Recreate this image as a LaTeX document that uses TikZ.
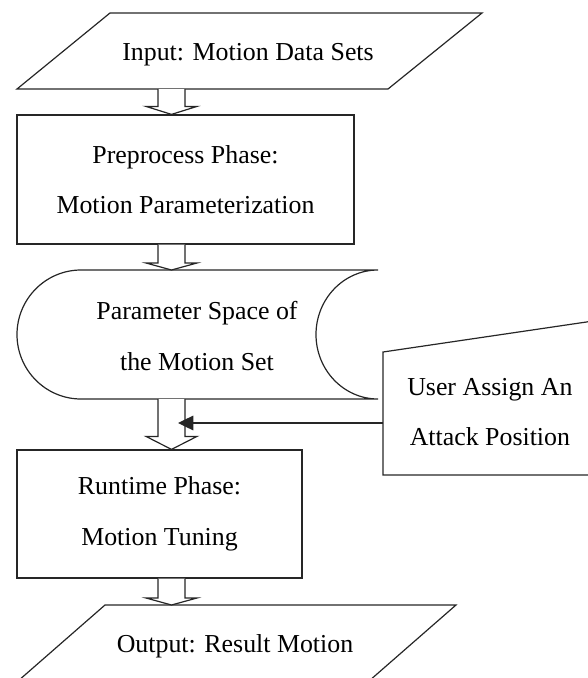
\documentclass[tikz,border=0pt]{standalone}
\usepackage{fontspec}
\setmainfont{Liberation Serif}
\usetikzlibrary{calc,arrows.meta}
\tikzset{
	shapeline/.style={draw=black!85, line width=0.9pt},
	textbox/.style={align=center, inner sep=0pt, font=\fontsize{19.4pt}{38pt}\selectfont},
	procbox/.style={shapeline, rectangle, textbox},
	hollow/.style={draw=black!85, line width=0.9pt, fill=white},
	assign/.style={draw=black!85, line width=0.9pt, -{Triangle[length=11.5pt,width=11pt]}}
}
% hollow block arrow: from, tip, head height
\newcommand{\hollowarrow}[3]{%
	\filldraw[hollow] ($(#1)+(-13.5,0)$) -- ($(#2)+(-13.5,-#3)$) -- ($(#2)+(-25.5,-#3)$)
	-- (#2) -- ($(#2)+(25.5,-#3)$) -- ($(#2)+(13.5,-#3)$) -- ($(#1)+(13.5,0)$);}
\begin{document}
\begin{tikzpicture}[x=0.75pt, y=-0.75pt]
	\clip (0,0) rectangle (588,678);
	%input
	\draw[shapeline] (110,13) -- (482,13) -- (388,89) -- (17,89) -- cycle;
	\node[textbox] (input) at (248,55) {Input: Motion Data Sets};
	%preprocess
	\node[procbox, minimum width=252.75pt, minimum height=96.75pt] (pre) at (185.5,179.5)
	{Preprocess Phase:\\Motion Parameterization};
	%parameter space
	\draw[shapeline] (81,270) -- (378,270)
	.. controls (343.8,270) and (316,298.9) .. (316,334.5)
	.. controls (316,370.1) and (343.8,399) .. (378,399) -- (81,399)
	.. controls (45.7,399) and (17,370.1) .. (17,334.5)
	.. controls (17,298.9) and (45.7,270) .. cycle;
	\node[textbox] (space) at (197,336) {Parameter Space of\\the Motion Set};
	\coordinate (spacetop) at (171.5,270);
	\coordinate (spacebot) at (171.5,399);
	%user assign
	\draw[shapeline] (383,475) -- (383,352) -- (600,320) -- (600,475) -- cycle;
	\node[textbox, anchor=west] (user) at (407,412) {User Assign An\\Attack Position};
	\coordinate (userleft) at (383,423);
	%runtime
	\node[procbox, minimum width=213.75pt, minimum height=96pt] (run) at (159.5,514)
	{Runtime Phase:\\Motion Tuning};
	%output
	\draw[shapeline] (105,605) -- (456,605) -- (369,681) -- (18,681) -- cycle;
	\node[textbox] (output) at (235,646) {Output: Result Motion};
	\coordinate (outtop) at (171.5,605);
	%arrows
	\coordinate (inbot) at (171.5,89);
	\hollowarrow{inbot}{inbot |- pre.north}{8}
	\hollowarrow{inbot |- pre.south}{spacetop}{7}
	\hollowarrow{spacebot}{inbot |- run.north}{13}
	\hollowarrow{inbot |- run.south}{outtop}{7}
	\coordinate (hit) at (178,423);
	\draw[assign] (userleft) -- (hit);
\end{tikzpicture}
\end{document}
